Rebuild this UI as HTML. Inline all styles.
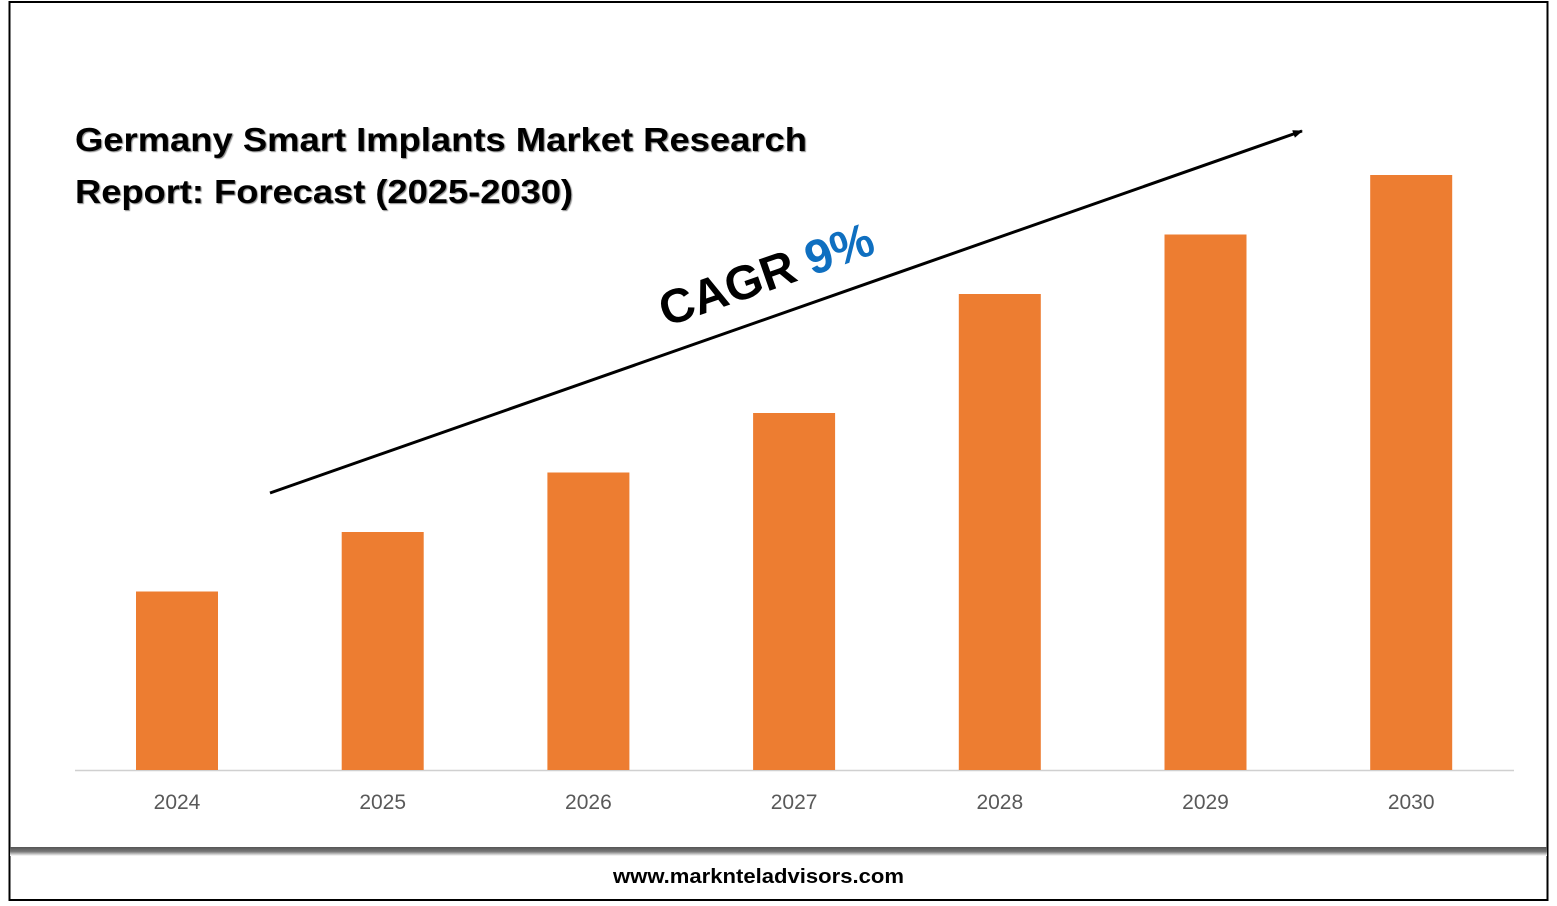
<!DOCTYPE html>
<html><head><meta charset="utf-8"><style>
html,body{margin:0;padding:0;background:#fff;}
svg{display:block;font-family:"Liberation Sans",sans-serif;}
</style></head><body>
<svg width="1557" height="906" viewBox="0 0 1557 906">
<defs>
<linearGradient id="sh" x1="0" y1="0" x2="0" y2="1">
<stop offset="0" stop-color="#555"/><stop offset="0.5" stop-color="#777"/><stop offset="1" stop-color="#fff"/>
</linearGradient>
<marker id="ah" markerWidth="10" markerHeight="8" refX="9" refY="4" orient="auto" markerUnits="userSpaceOnUse"><path d="M0,0 L10,4 L0,8 Z" fill="#000"/></marker>
</defs>
<rect x="9.5" y="2" width="1538" height="898" fill="#fff" stroke="#000" stroke-width="2"/>
<rect x="10" y="847" width="1537" height="9" fill="url(#sh)"/>
<g font-weight="bold" font-size="33" fill="#000" style="text-shadow:1px 1px 1px #888">
<text x="75" y="151" textLength="732" lengthAdjust="spacingAndGlyphs">Germany Smart Implants Market Research</text>
<text x="75" y="203" textLength="498" lengthAdjust="spacingAndGlyphs">Report: Forecast (2025-2030)</text>
</g>
<line x1="75" y1="770.5" x2="1514" y2="770.5" stroke="#d0d0d0" stroke-width="1.5"/>
<g id="bars"></g>
<g id="labels"></g>
<line x1="270" y1="493" x2="1302" y2="131" stroke="#000" stroke-width="3" marker-end="url(#ah)"/>
<text transform="translate(666,327) rotate(-19.3)" font-size="48" font-weight="bold"><tspan fill="#000">CAGR </tspan><tspan fill="#0f6fc0">9%</tspan></text>
<text x="613" y="883" textLength="291" lengthAdjust="spacingAndGlyphs" font-size="20" font-weight="bold" fill="#000">www.marknteladvisors.com</text>
</svg>
<script>
const categories=["2024","2025","2026","2027","2028","2029","2030"];
const values=[1.5,2.0,2.5,3.0,4.0,4.5,5.0];
const baseY=770, pxPerUnit=119, x0=177, step=205.7, bw=82;
const ns="http://www.w3.org/2000/svg";
const bars=document.getElementById('bars'), labels=document.getElementById('labels');
function xScale(i){return x0+i*step;}
function yScale(v){return baseY-v*pxPerUnit;}
categories.forEach((c,i)=>{
  const r=document.createElementNS(ns,'rect');
  r.setAttribute('x',xScale(i)-bw/2);
  r.setAttribute('y',yScale(values[i]));
  r.setAttribute('width',bw);
  r.setAttribute('height',baseY-yScale(values[i]));
  r.setAttribute('fill','#ed7d31');
  
  
  bars.appendChild(r);
  const t=document.createElementNS(ns,'text');
  t.setAttribute('x',xScale(i));
  t.setAttribute('y',809);
  t.setAttribute('text-anchor','middle');
  t.setAttribute('font-size','21');
  t.setAttribute('fill','#595959');
  t.textContent=c;
  
  
  labels.appendChild(t);
});
</script>
</body></html>
